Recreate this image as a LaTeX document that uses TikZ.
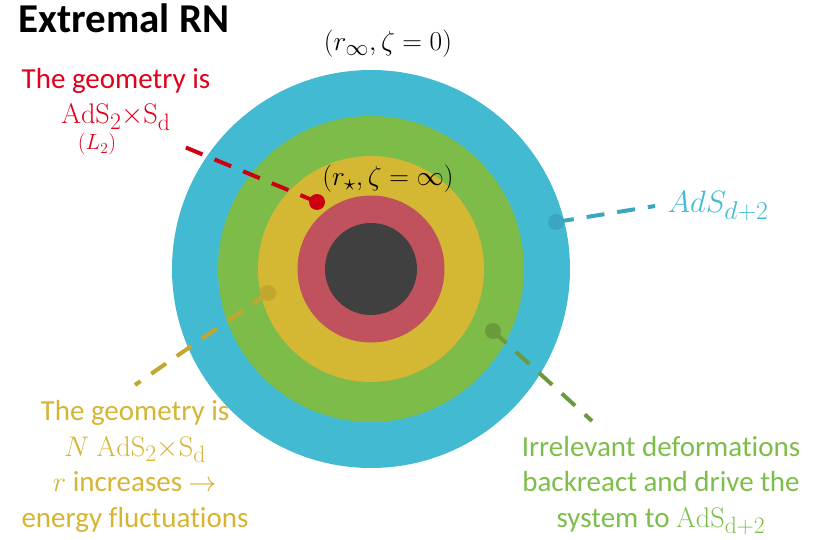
\documentclass[tikz,border=0pt]{standalone}
\usepackage[no-math]{fontspec}
\setmainfont{Carlito}[Ligatures=NoCommon]
\usepackage{graphicx}
\usetikzlibrary{positioning}
\definecolor{ringblue}{HTML}{42BAD2}
\definecolor{ringgreen}{HTML}{7EBC4A}
\definecolor{ringyellow}{HTML}{D4B733}
\definecolor{ringred}{HTML}{C0525E}
\definecolor{ringcore}{HTML}{404040}
\definecolor{txtred}{HTML}{E0001A}
\definecolor{txtyellow}{HTML}{D6B434}
\definecolor{txtgreen}{HTML}{7DBE4A}
\definecolor{txtblue}{HTML}{41BBD3}
\definecolor{dotred}{HTML}{CC0010}
\definecolor{dotyellow}{HTML}{C2A72E}
\definecolor{dotgreen}{HTML}{6A9A3C}
\definecolor{dotblue}{HTML}{3AA6C0}
% math set at 29pt, then enlarged
\newcommand{\mscale}[2]{\scalebox{#1}{$#2$}}

\begin{document}
\begin{tikzpicture}[x=1pt, y=-1pt,
    dot/.style={circle, inner sep=0pt, minimum size=16pt, fill=#1},
    leader/.style={draw=#1, line width=4pt, dash pattern=on 18pt off 13pt},
    label_txt/.style={align=center, anchor=base, text=#1,
                      font=\fontsize{29}{35.5}\selectfont},
    point_lbl/.style={anchor=base, font=\fontsize{29}{34}\selectfont},
]
\useasboundingbox (0,0) rectangle (819,540);

% Rings of the throat
\coordinate (ctr) at (371,269);
\fill[ringblue]   (ctr) circle (199pt);
\fill[ringgreen]  (ctr) circle (153pt);
\fill[ringyellow] (ctr) circle (113pt);
\fill[ringred]    (ctr) circle (73.5pt);
\fill[ringcore]   (ctr) circle (46pt);

% Title and point labels
\node[anchor=base west, font=\fontsize{41}{44}\selectfont\bfseries]
    (title) at (15,33) {Extremal RN};
\node[point_lbl] (rinf) at (388,51) {\mscale{1.1}{(r_\infty,\zeta=0)}};
\node[point_lbl] (rstar) at (388,186) {\mscale{1.1}{(r_\star,\zeta=\infty)}};

% Ends of the leaders
\coordinate (redend) at (175,143);
\coordinate (blueend) at (655,206);
\coordinate (greenend) at (592,421);
\coordinate (yellowend) at (135,385);

% Dots on the rings
\node[dot=dotred] (rdot) at (317,202) {};
\node[dot=dotblue] (bdot) at (556,222) {};
\node[dot=dotgreen] (gdot) at (493,331) {};
\node[dot=dotyellow] (ydot) at (268,293) {};

% Dashed leaders
\draw[leader=dotred] (rdot.center) -- (redend);
\draw[leader=dotblue] (bdot.center) -- (blueend);
\draw[leader=dotgreen] (gdot.center) -- (greenend);
\draw[leader=dotyellow] (ydot.center) -- (yellowend);

% Region labels
\node[label_txt=txtred] (redlbl) at (116,124)
    {The geometry is\\\mscale{1.14}{\mathrm{AdS}_2{\times}\mathrm{S}_\mathrm{d}}};
\node[anchor=base, text=txtred, font=\fontsize{20.74}{24}\selectfont]
    (redsub) at (97,150) {\mscale{1.06}{(L_2)}};
\node[anchor=base west, text=txtblue, font=\fontsize{29}{34}\selectfont]
    (bluelbl) at (664,212) {\mscale{1.24}{AdS_{d+2}}};
\node[label_txt=txtyellow] (yellowlbl) at (135,527)
    {The geometry is\\\mscale{1.14}{N\ \mathrm{AdS}_2{\times}\mathrm{S}_\mathrm{d}}\\
     \mscale{1.14}{r} increases \mscale{1.14}{\rightarrow}\\energy fluctuations};
\node[label_txt=txtgreen] (greenlbl) at (661,527)
    {Irrelevant deformations\\backreact and drive the\\
     system to \mscale{1.14}{\mathrm{AdS}_\mathrm{d+2}}};
\end{tikzpicture}
\end{document}
